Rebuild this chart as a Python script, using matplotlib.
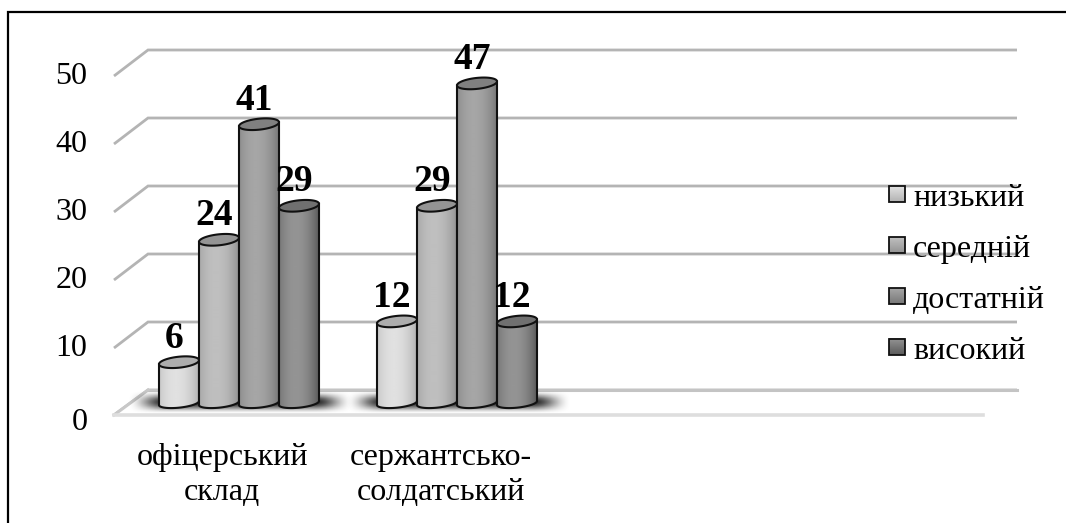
"""
Рівні сформованості за категоріями військовослужбовців:
циліндрична 3D-подібна гістограма у відтінках сірого.
"""
import numpy as np
import matplotlib
matplotlib.use("Agg")
import matplotlib.pyplot as plt
from matplotlib.patches import PathPatch, Polygon, Rectangle
from matplotlib.path import Path

plt.rcParams["font.family"] = ["Liberation Serif", "DejaVu Serif"]

# ---------------------------------------------------------------------
# Дані
# ---------------------------------------------------------------------
categories = ["офіцерський\nсклад", "сержантсько-\nсолдатський"]
levels = ["низький", "середній", "достатній", "високий"]
officers = [6, 24, 41, 29]
soldiers = [12, 29, 47, 12]
y_ticks = [0, 10, 20, 30, 40, 50]

# відтінки: край циліндра, світла смуга, верхня кришка
edge_shade = [0.70, 0.58, 0.47, 0.36]
light_shade = [0.88, 0.75, 0.65, 0.58]
cap_shade = [0.68, 0.58, 0.50, 0.44]

# ---------------------------------------------------------------------
# Геометрія (x у пікселях, y у значеннях шкали)
# ---------------------------------------------------------------------
W, H = 1066, 523
UNIT = 6.8          # пікселів на одиницю шкали
BASE = 403          # піксельний рядок нульового рівня
DEPTH = 13 / UNIT   # половина глибини "підлоги"
BAR_W = 40
CAP = 5.5 / UNIT    # мала піввісь еліпса
SKEW = 2.0 / UNIT   # нахил еліпсів
group_left = [159, 377]

fig = plt.figure(figsize=(W / 100, H / 100), dpi=100)
ax = fig.add_axes([0, 0, 1, 1])
ax.axis("off")


def px_y(row):
    return (BASE - row) / UNIT


def fade(u, start):
    # плавний спад від 1 до 0 на відрізку [start, 1]
    s = np.clip((np.abs(u) - start) / (1 - start), 0, 1)
    return 1 - s * s * (3 - 2 * s)


# ---------------------------------------------------------------------
# Сітка та підлога
# ---------------------------------------------------------------------
for v in y_ticks:
    back = v + DEPTH
    front = v - DEPTH
    if v == 0:
        back, front = px_y(390), px_y(415)
    ax.plot([114, 148, 1017], [front, back, back], color="#b4b4b4", lw=2.0,
            solid_capstyle="butt", solid_joinstyle="miter", zorder=1)
    label_y = px_y(422) if v == 0 else v - DEPTH - 0.1
    ax.text(87.5, label_y, str(v), fontsize=23, ha="right", va="center", zorder=6)

ax.add_patch(Polygon([(114, px_y(415)), (148, px_y(390)), (1017, px_y(390)), (983, px_y(415))],
                     closed=True, fc="#ffffff", ec="none", zorder=1.1))
ax.plot([148, 1017], [px_y(390)] * 2, color="#c4c4c4", lw=2.2, zorder=1.2)
ax.plot([114, 148], [px_y(415), px_y(390)], color="#c8c8c8", lw=2.2, zorder=1.2)
ax.plot([114, 983], [px_y(415)] * 2, color="#dedede", lw=2.6, zorder=1.2)


def add_shadow(x0, x1):
    # розмита тінь під групою стовпчиків
    xs = np.linspace(-1, 1, 260)
    ys = np.linspace(-1, 1, 40)
    gx, gy = np.meshgrid(xs, ys)
    alpha = fade(gx, 0.65) * fade(gy, 0.0)
    rgba = np.zeros(alpha.shape + (4,))
    rgba[..., 3] = alpha * 0.85
    ax.imshow(rgba, extent=[x0, x1, px_y(414), px_y(390)], aspect="auto",
              zorder=1.5, interpolation="bilinear")


def cylinder(x, value, idx):
    top = value
    cx = x + BAR_W / 2
    # циліндр освітлений зліва від центру
    t = np.linspace(0, 1, 80)
    profile = 1 - np.abs((t - 0.42) / 0.58) ** 2
    row = edge_shade[idx] + (light_shade[idx] - edge_shade[idx]) * profile
    k = np.linspace(0, np.pi, 40)
    lower_x = cx - BAR_W / 2 * np.cos(k)
    lower_y = -CAP * 0.85 * np.sin(k) + SKEW * (-np.cos(k))
    verts = [(cx - BAR_W / 2, top - SKEW)] + list(zip(lower_x, lower_y)) + \
        [(cx + BAR_W / 2, top + SKEW), (cx - BAR_W / 2, top - SKEW)]
    codes = [Path.MOVETO] + [Path.LINETO] * (len(verts) - 2) + [Path.CLOSEPOLY]
    img = ax.imshow(row[np.newaxis, :], cmap="gray", vmin=0, vmax=1, aspect="auto",
                    extent=[x, x + BAR_W, -2 * CAP, top + CAP], zorder=3 + idx * 0.1,
                    interpolation="bilinear")
    body = PathPatch(Path(verts, codes), fc="none", ec="#111111", lw=1.5,
                     zorder=3.02 + idx * 0.1)
    ax.add_patch(body)
    img.set_clip_path(body)
    # кришка: еліпс із невеликим нахилом угору праворуч
    a = np.linspace(0, 2 * np.pi, 80)
    cap_pts = np.column_stack([cx + BAR_W / 2 * np.cos(a),
                               top + CAP * np.sin(a) + SKEW * np.cos(a)])
    ax.add_patch(Polygon(cap_pts, closed=True, fc=str(cap_shade[idx]), ec="#111111",
                         lw=1.5, zorder=3.05 + idx * 0.1))


# ---------------------------------------------------------------------
# Стовпчики, підписи значень та категорій
# ---------------------------------------------------------------------
for left, values, name, cat_x in zip(group_left, [officers, soldiers], categories, [222, 441]):
    add_shadow(left - 32, left + 195)
    for i, val in enumerate(values):
        x = left + i * BAR_W
        cylinder(x, val, i)
        ax.text(x + BAR_W / 2 - 5, val + 3.55, str(val), fontsize=27, fontweight="bold",
                ha="center", va="center", zorder=5)
    ax.text(cat_x, px_y(475), name, fontsize=23, ha="center", va="center",
            linespacing=1.3, zorder=6)

# ---------------------------------------------------------------------
# Легенда
# ---------------------------------------------------------------------
for i, name in enumerate(levels):
    key_row = 194 + i * 51
    ax.imshow(np.linspace(light_shade[i], edge_shade[i], 20)[:, np.newaxis], cmap="gray",
              vmin=0, vmax=1, aspect="auto", zorder=6,
              extent=[889, 905, px_y(key_row + 8), px_y(key_row - 8)])
    ax.add_patch(Rectangle((889, px_y(key_row + 8)), 16, 16 / UNIT, fc="none", ec="#111111",
                           lw=1.3, zorder=6.1))
    ax.text(913, px_y(206 + i * 51), name, fontsize=23, ha="left", va="baseline", zorder=6)

# рамка діаграми: лише зліва та зверху
ax.plot([7.5, 7.5, W], [px_y(H), px_y(12), px_y(12)], color="black", lw=1.6,
        solid_joinstyle="miter", zorder=7)

ax.set_xlim(0, W)
ax.set_ylim(px_y(H), px_y(0))

fig.savefig("out.png", dpi=100, facecolor="white")
